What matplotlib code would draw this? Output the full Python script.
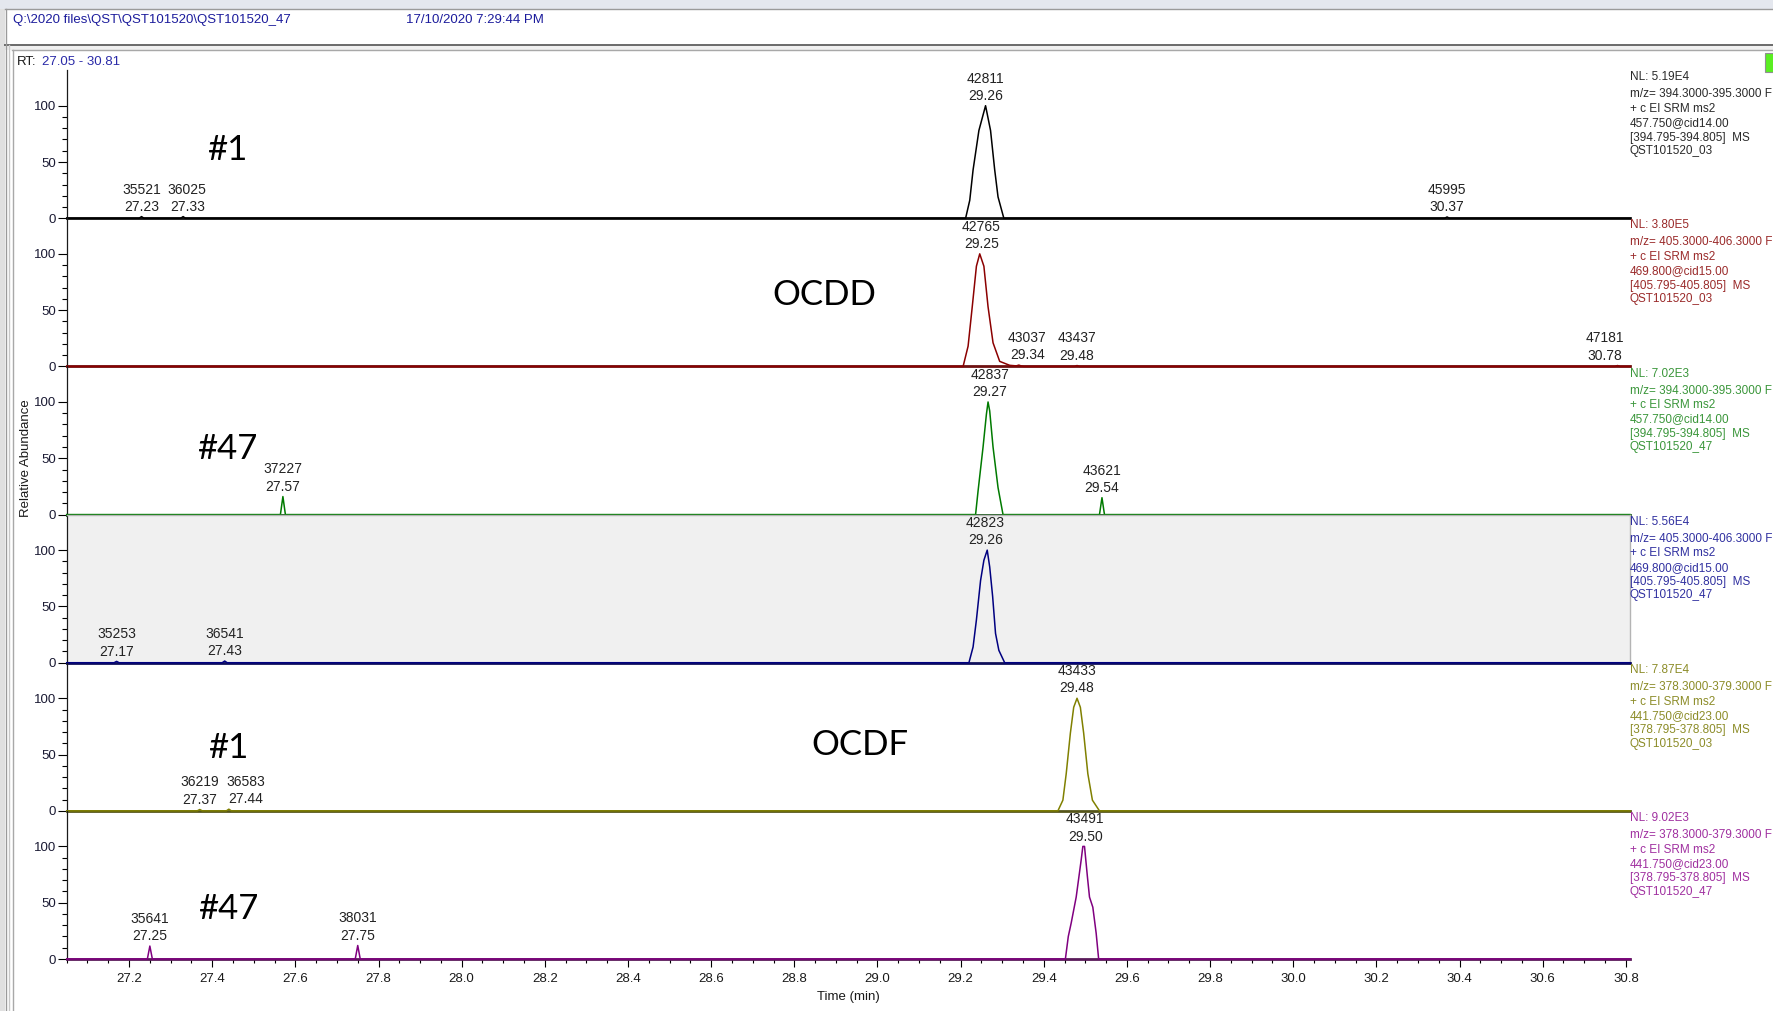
import numpy as np
import matplotlib
matplotlib.use('Agg')
import matplotlib.pyplot as plt
from matplotlib.patches import Rectangle
from matplotlib.lines import Line2D
from matplotlib.ticker import MultipleLocator, FormatStrFormatter

plt.rcParams['font.family'] = ['Liberation Sans', 'DejaVu Sans']

W, H = 1773, 1011
XMIN, XMAX = 27.05, 30.81

# chromatogram traces (retention time in min, relative abundance in %)
t_1 = [27.05, 27.224, 27.230, 27.236, 27.324, 27.330, 27.336, 29.212, 29.222, 29.230, 29.244,
       29.260, 29.272, 29.282, 29.290, 29.304, 30.364, 30.370, 30.376, 30.81]
h_1 = [0, 0, 1.5, 0, 0, 1.5, 0, 0, 16, 43, 78, 100, 78, 43, 19, 0, 0, 1.2, 0, 0]

t_2 = [27.05, 29.206, 29.218, 29.228, 29.238, 29.246, 29.256, 29.266, 29.278, 29.294, 29.318,
       29.334, 29.340, 29.346, 29.352, 29.474, 29.480, 29.486, 30.774, 30.780, 30.786, 30.81]
h_2 = [0, 0, 18, 53, 89, 100, 89, 53, 21, 4.5, 1, 0.5, 1.2, 0.4, 0, 0, 0.8, 0, 0, 0.8, 0, 0]

t_3 = [27.05, 27.564, 27.570, 27.576, 29.236, 29.242, 29.254, 29.262, 29.266, 29.270, 29.278,
       29.290, 29.302, 29.534, 29.540, 29.546, 30.81]
h_3 = [0, 0, 16, 0, 0, 21, 60, 89, 100, 92, 60, 24, 0, 0, 15, 0, 0]

t_4 = [27.05, 27.164, 27.170, 27.176, 27.424, 27.430, 27.436, 29.220, 29.230, 29.238, 29.248,
       29.256, 29.264, 29.270, 29.277, 29.284, 29.292, 29.306, 30.81]
h_4 = [0, 0, 1.2, 0, 0, 1.5, 0, 0, 14, 38, 73, 91, 100, 85, 59, 26, 11, 0, 0]

t_5 = [27.05, 27.364, 27.370, 27.376, 27.434, 27.440, 27.446, 29.434, 29.446, 29.454, 29.464,
       29.472, 29.480, 29.488, 29.496, 29.506, 29.517, 29.534, 30.81]
h_5 = [0, 0, 1.2, 0, 0, 1.5, 0, 0, 9.5, 33, 69, 92, 100, 92, 69, 33, 9.5, 0, 0]

t_6 = [27.05, 27.244, 27.250, 27.256, 27.744, 27.750, 27.756, 29.452, 29.459, 29.466, 29.478,
       29.490, 29.494, 29.498, 29.505, 29.510, 29.518, 29.526, 29.532, 30.81]
h_6 = [0, 0, 11.5, 0, 0, 12, 0, 0, 20, 32, 55, 88, 100, 100, 73, 55, 46, 23, 0, 0]

# labelled peaks: retention time and scan number
peak_rt_1 = [27.23, 27.33, 29.26, 30.37]
peak_scan_1 = [35521, 36025, 42811, 45995]
peak_rt_2 = [29.25, 29.34, 29.48, 30.78]
peak_scan_2 = [42765, 43037, 43437, 47181]
peak_rt_3 = [27.57, 29.27, 29.54]
peak_scan_3 = [37227, 42837, 43621]
peak_rt_4 = [27.17, 27.43, 29.26]
peak_scan_4 = [35253, 36541, 42823]
peak_rt_5 = [27.37, 27.44, 29.48]
peak_scan_5 = [36219, 36583, 43433]
peak_rt_6 = [27.25, 27.75, 29.50]
peak_scan_6 = [35641, 38031, 43491]

# scan filter info shown to the right of each trace
info_1 = ["NL: 5.19E4", "m/z= 394.3000-395.3000 F:", "+ c EI SRM ms2", "457.750@cid14.00",
          "[394.795-394.805]  MS", "QST101520_03"]
info_2 = ["NL: 3.80E5", "m/z= 405.3000-406.3000 F:", "+ c EI SRM ms2", "469.800@cid15.00",
          "[405.795-405.805]  MS", "QST101520_03"]
info_3 = ["NL: 7.02E3", "m/z= 394.3000-395.3000 F:", "+ c EI SRM ms2", "457.750@cid14.00",
          "[394.795-394.805]  MS", "QST101520_47"]
info_4 = ["NL: 5.56E4", "m/z= 405.3000-406.3000 F:", "+ c EI SRM ms2", "469.800@cid15.00",
          "[405.795-405.805]  MS", "QST101520_47"]
info_5 = ["NL: 7.87E4", "m/z= 378.3000-379.3000 F:", "+ c EI SRM ms2", "441.750@cid23.00",
          "[378.795-378.805]  MS", "QST101520_03"]
info_6 = ["NL: 9.02E3", "m/z= 378.3000-379.3000 F:", "+ c EI SRM ms2", "441.750@cid23.00",
          "[378.795-378.805]  MS", "QST101520_47"]

# hand-written sample tags per panel: (text, rt, abundance)
tags = [[("#1", 27.435, 61)],
        [("OCDD", 28.872, 63.6)],
        [("#47", 27.436, 58.6)],
        [],
        [("#1", 27.438, 56.2), ("OCDF", 28.959, 58.3)],
        [("#47", 27.438, 44.4)]]

traces = [(t_1, h_1), (t_2, h_2), (t_3, h_3), (t_4, h_4), (t_5, h_5), (t_6, h_6)]
peaks = [(peak_rt_1, peak_scan_1), (peak_rt_2, peak_scan_2), (peak_rt_3, peak_scan_3),
         (peak_rt_4, peak_scan_4), (peak_rt_5, peak_scan_5), (peak_rt_6, peak_scan_6)]
infos = [info_1, info_2, info_3, info_4, info_5, info_6]
line_colors = ['#000000', '#8b0000', '#007a00', '#000080', '#808000', '#800080']
base_colors = ['#111111', '#6e1010', '#0c500c', '#10105a', '#55551a', '#5a1a5a']
info_colors = ['#2a2a2a', '#9a2a2a', '#3a963a', '#3030a0', '#8c8c28', '#a030a0']


def fx(px):
    return px / W


def fy(py):
    return 1 - py / H


fig = plt.figure(figsize=(W / 100, H / 100), dpi=100)
fig.patch.set_facecolor('white')

# window frame
fig.add_artist(Rectangle((0, fy(9)), 1, 9 / H, transform=fig.transFigure, color='#e4e7ee', lw=0))
fig.add_artist(Rectangle((0, 0), fx(5), fy(9), transform=fig.transFigure, color='#e0e0e0', lw=0))
fig.add_artist(Rectangle((fx(5), fy(50)), 1, 5 / H, transform=fig.transFigure, color='#f0f0f0', lw=0))
for y, c, lw, x0 in [(9, '#9a9a9a', 1.0, 5), (45, '#6a6a6a', 1.4, 5), (50, '#a8a8a8', 1.0, 12)]:
    fig.add_artist(Line2D([fx(x0), 1], [fy(y), fy(y)], transform=fig.transFigure, color=c, lw=lw))
for x, c, y0 in [(5.5, '#9a9a9a', 9), (8.5, '#c8c8c8', 45), (12.5, '#a8a8a8', 50)]:
    fig.add_artist(Line2D([fx(x), fx(x)], [fy(y0), 0], transform=fig.transFigure, color=c, lw=1.0))
fig.add_artist(Rectangle((fx(1765), fy(72)), 10 / W, 19 / H, transform=fig.transFigure,
                         facecolor='#5aee22', edgecolor='#909090', lw=0.8))

fig.text(fx(13), fy(20), r"Q:\2020 files\QST\QST101520\QST101520_47", color='#1c1c9c',
         fontsize=9.5, va='center', ha='left')
fig.text(fx(406), fy(20), "17/10/2020 7:29:44 PM", color='#1c1c9c', fontsize=9.5,
         va='center', ha='left')
fig.text(fx(17), fy(62.3), "RT:", color='#1a1a1a', fontsize=9.5, va='center', ha='left')
fig.text(fx(42.5), fy(62.3), "27.05 - 30.81", color='#2a2aa8', fontsize=9.5, va='center', ha='left')
fig.text(fx(26), fy(458), "Relative Abundance", rotation=90, fontsize=9.5, color='#1a1a1a',
         va='center', ha='center')
fig.text(fx(848), fy(996.7), "Time (min)", fontsize=9.5, color='#1a1a1a', va='center', ha='center')

ax_left, ax_right = 66.7, 1630
panel_h = 148.14
first_base = 218.3
info_offsets = [7.1, 24.1, 38.8, 53.1, 67.5, 80.8]

for i in range(6):
    base = first_base + panel_h * i
    top = base - panel_h
    ax = fig.add_axes([fx(ax_left), fy(base), (ax_right - ax_left) / W, panel_h / H])
    ax.set_xlim(XMIN, XMAX)
    ax.set_ylim(0, panel_h / 1.126)

    if i == 3:
        ax.set_facecolor('#f0f0f0')
        for s in ['top', 'right']:
            ax.spines[s].set_color('#b4b4b4')
            ax.spines[s].set_linewidth(1.0)
    else:
        ax.patch.set_alpha(0)
        ax.spines['top'].set_visible(False)
        ax.spines['right'].set_visible(False)
    ax.spines['left'].set_color('#1a1a1a')
    ax.spines['left'].set_linewidth(0.9)
    ax.spines['bottom'].set_color(base_colors[i])
    ax.spines['bottom'].set_linewidth(2.0)

    ax.set_yticks([0, 50, 100])
    ax.set_yticks(np.arange(0, 101, 10), minor=True)
    ax.tick_params(axis='y', which='major', length=6.5, width=0.8, direction='out', pad=1,
                   labelsize=9.5, labelcolor='#1a1a33')
    ax.tick_params(axis='y', which='minor', length=3.6, width=0.8, direction='out')

    if i == 5:
        ax.xaxis.set_major_locator(MultipleLocator(0.2))
        ax.xaxis.set_minor_locator(MultipleLocator(0.05))
        ax.xaxis.set_major_formatter(FormatStrFormatter('%.1f'))
        ax.tick_params(axis='x', which='major', length=5.8, width=0.8, direction='out', pad=4,
                       labelsize=9.5, labelcolor='#1a1a1a')
        ax.tick_params(axis='x', which='minor', length=3.0, width=0.8, direction='out')
    else:
        ax.tick_params(axis='x', which='both', bottom=False, labelbottom=False)

    t, h = traces[i]
    ax.plot(t, h, color=line_colors[i], lw=1.1, clip_on=False, zorder=3)

    # peak labels sit on the apex, nudged right when they would run into the previous one
    rts, scans = peaks[i]
    t_arr, h_arr = np.asarray(t), np.asarray(h)
    prev_x = None
    for rt, scan in zip(rts, scans):
        x_lab = rt
        if prev_x is not None and x_lab - prev_x < 0.11:
            x_lab = prev_x + 0.11
        x_lab = min(x_lab, XMAX - 0.06)
        prev_x = x_lab
        near = np.abs(t_arr - rt) <= 0.012
        h_pk = max(np.interp(rt, t_arr, h_arr), h_arr[near].max() if near.any() else 0)
        ax.annotate(f"{scan}\n{rt:.2f}", xy=(x_lab, h_pk), xytext=(0, 2),
                    textcoords='offset points', ha='center', va='bottom', fontsize=10,
                    linespacing=1.3, color='#222222', annotation_clip=False, zorder=5)

    for txt, tx, ty in tags[i]:
        ax.text(tx, ty, txt, fontsize=25, family=['Lato', 'DejaVu Sans'],
                ha='center', va='center', color='black', zorder=6)

    for line, off in zip(infos[i], info_offsets):
        fig.text(fx(1630), fy(top + off), line, color=info_colors[i], fontsize=8.5,
                 va='center', ha='left')

fig.savefig('out.png', dpi=100)
